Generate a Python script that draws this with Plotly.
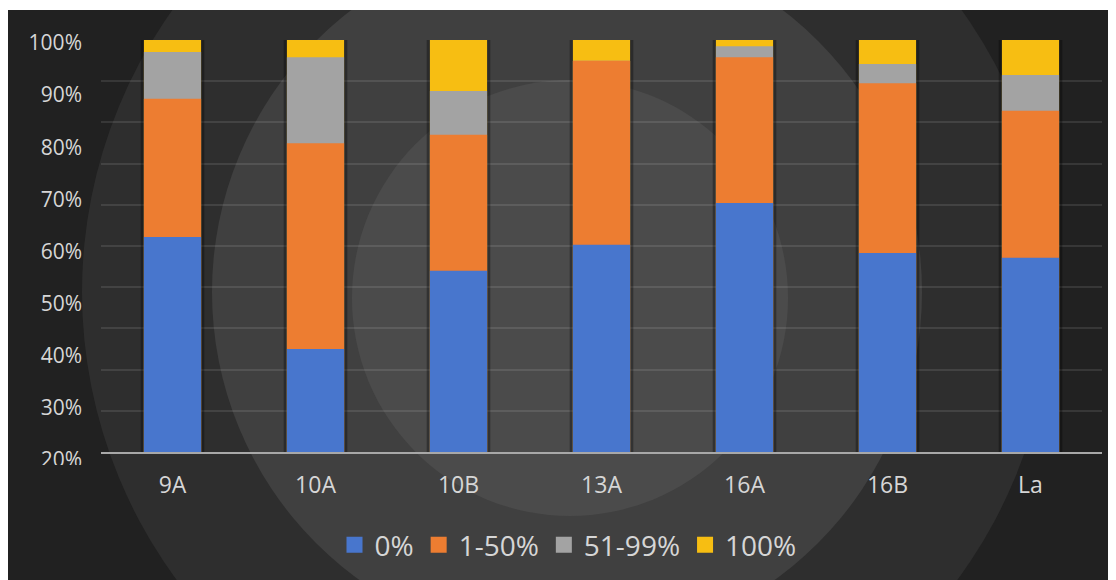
import numpy as np
import plotly.graph_objects as go

# ---------------- data ----------------
categories = ["9A", "10A", "10B", "13A", "16A", "16B", "La"]
pct_0 = [62.2, 40.7, 55.7, 60.7, 68.7, 59.1, 58.2]
pct_1_50 = [26.5, 39.5, 26.1, 35.3, 28.0, 32.6, 28.2]
pct_51_99 = [9.0, 16.5, 8.4, 0.0, 2.1, 3.7, 6.9]
pct_100 = [2.3, 3.3, 9.8, 4.0, 1.2, 4.6, 6.7]
series_names = ["0%", "1-50%", "51-99%", "100%"]
y_tick_values = [20, 30, 40, 50, 60, 70, 80, 90, 100]

# ---------------- styling ----------------
colors = ["#4876CD", "#ED7D31", "#A3A3A3", "#F7BE12"]
FONT = "Open Sans"
TXT = "#D6D6D6"
BG = "#212121"
W, H = 1116, 580
L, R, T, B = 93, 1094, 32, 460       # plot area in figure pixels
AXIS_Y = 444                          # pixel row of the category axis line
PER10 = 52.1                          # pixels per 10 % on the labelled axis
LBL_TOP = 100 + 3 / PER10 * 10        # label axis value at plot top


def fx(px):
    return (px - L) / (R - L)


def fy(py):
    return (B - py) / (B - T)


series = [pct_0, pct_1_50, pct_51_99, pct_100]
cum = np.cumsum(np.array(series), axis=0)   # stacked tops
totals = cum[-1]

fig = go.Figure()

# soft shadow behind each stack
fig.add_trace(go.Bar(x=categories, y=totals, width=0.445,
                     marker=dict(color="rgba(0,0,0,0.32)", line=dict(width=0)),
                     showlegend=False, hoverinfo="skip"))
# stacked segments drawn top-down as overlapping bars from zero
for i in range(len(series) - 1, -1, -1):
    fig.add_trace(go.Bar(x=categories, y=cum[i], width=0.4, name=series_names[i],
                         marker=dict(color=colors[i], line=dict(width=0)),
                         showlegend=False))
# legend entries
for name, c in zip(series_names, colors):
    fig.add_trace(go.Scatter(x=[None], y=[None], mode="markers", name=name,
                             marker=dict(symbol="square", size=16, color=c)))

dom_bottom = (B - AXIS_Y) / (B - T)
bar_range_low = 100 - (AXIS_Y - T) / PER10 * 10

shapes = []
for (cx, cy, r, col) in [(559, 284, 485, "#2E2E2E"), (559, 284, 355, "#404040"),
                         (562, 290, 218, "#4B4B4B")]:
    shapes.append(dict(type="circle", layer="below", xref="paper", yref="paper",
                       x0=fx(cx - r), x1=fx(cx + r), y0=fy(cy + r), y1=fy(cy - r),
                       fillcolor=col, line=dict(width=0)))
shapes += [
    dict(type="rect", layer="below", xref="paper", yref="paper",
         x0=fx(-5), x1=fx(W + 5), y0=fy(2), y1=fy(-5), fillcolor="white", line=dict(width=0)),
    # clip the bottom of the cut-off "20%" label
    dict(type="rect", layer="above", xref="paper", yref="paper",
         x0=fx(0), x1=fx(L - 1), y0=fy(485), y1=fy(457), fillcolor=BG, line=dict(width=0)),
]

fig.update_layout(
    width=W, height=H, autosize=False,
    margin=dict(l=L, r=W - R, t=T, b=H - B, pad=0),
    paper_bgcolor=BG, plot_bgcolor="rgba(0,0,0,0)",
    barmode="overlay",
    font=dict(family=FONT, color=TXT),
    shapes=shapes,
    showlegend=True,
    legend=dict(orientation="h", x=fx(560), xanchor="center", y=fy(537), yanchor="middle",
                font=dict(size=28, color=TXT, family=FONT), bgcolor="rgba(0,0,0,0)",
                itemclick=False),
    xaxis=dict(type="category", categoryorder="array", categoryarray=categories,
               showgrid=False, zeroline=False, showline=True, linecolor="#A8A8A8", linewidth=2,
               ticks="", tickfont=dict(size=23, color=TXT, family=FONT), ticklabelstandoff=11,
               anchor="y", fixedrange=True),
    yaxis=dict(domain=[dom_bottom, 1], range=[bar_range_low, 100], showgrid=False,
               zeroline=False, showticklabels=False, ticks="", fixedrange=True),
    yaxis2=dict(domain=[dom_bottom, 1], range=[0, 10], dtick=1, overlaying="y",
                showgrid=True, gridcolor="rgba(255,255,255,0.10)", gridwidth=1.5,
                zeroline=False, showticklabels=False, ticks="", fixedrange=True),
    yaxis3=dict(domain=[0, 1], range=[LBL_TOP - (B - T) / PER10 * 10, LBL_TOP],
                anchor="free", position=0, side="left",
                tickmode="array", tickvals=y_tick_values,
                ticktext=[f"{v}%" for v in y_tick_values],
                showgrid=False, zeroline=False, showline=False, ticks="",
                tickfont=dict(size=21, color=TXT, family=FONT), ticklabelstandoff=19,
                fixedrange=True),
)

# invisible traces so the extra axes are drawn
fig.add_trace(go.Scatter(x=[None], y=[None], yaxis="y2", showlegend=False, hoverinfo="skip"))
fig.add_trace(go.Scatter(x=[None], y=[None], yaxis="y3", showlegend=False, hoverinfo="skip"))

fig.write_html("out.html")
